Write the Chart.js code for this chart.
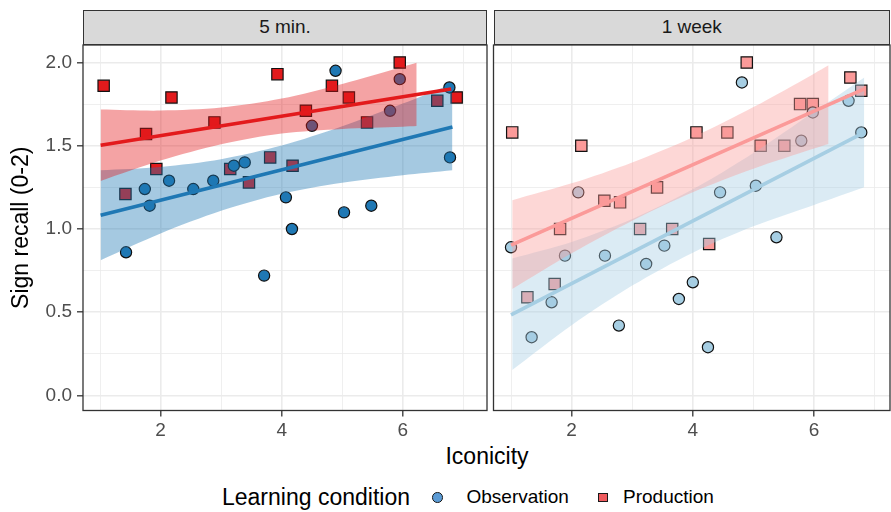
<!DOCTYPE html>
<html>
<head>
<meta charset="utf-8">
<script src="https://cdn.jsdelivr.net/npm/chart.js@4.4.1/dist/chart.umd.min.js"></script>
<style>
html,body{margin:0;padding:0;background:#fff;}
#wrap{position:relative;width:891px;height:512px;overflow:hidden;font-family:"Liberation Sans",Arial,sans-serif;background:#fff;}
#wrap canvas{position:absolute;top:0;}
.strip{position:absolute;box-sizing:border-box;background:#d9d9d9;border:1.3px solid #333;color:#1a1a1a;font-size:19px;display:flex;align-items:center;justify-content:center;}
.txt{position:absolute;white-space:nowrap;color:#000;}
.sym{position:absolute;box-sizing:border-box;border:1.2px solid #1a1a1a;}
</style>
</head>
<body>
<div id="wrap">
  <canvas id="c5" width="489" height="440" style="left:0px"></canvas>
  <canvas id="cw" width="401" height="440" style="left:490px"></canvas>
  <div class="strip" style="left:83px;top:9.5px;width:404px;height:35.5px;">5 min.</div>
  <div class="strip" style="left:493.5px;top:9.5px;width:396.5px;height:35.5px;">1 week</div>
  <div class="txt" style="left:387px;width:200px;text-align:center;top:441px;line-height:30px;font-size:23px;">Iconicity</div>
  <div class="txt" style="left:222px;top:483px;line-height:28px;font-size:23px;">Learning condition</div>
  <div class="sym" style="left:432px;top:492px;width:10.5px;height:10.5px;border-radius:50%;background:#5b9bd5;"></div>
  <div class="txt" style="left:466.5px;top:483px;line-height:28px;font-size:19px;">Observation</div>
  <div class="sym" style="left:598px;top:492.5px;width:9.5px;height:9.5px;background:#ef5b5e;"></div>
  <div class="txt" style="left:623px;top:483px;line-height:28px;font-size:19px;">Production</div>
</div>
<script>
// ---------- data ----------
const xTickValues = [1, 2, 3, 4, 5, 6, 7];
const xMajorTicks = [2, 4, 6];
const yTickValues = [0, 0.25, 0.5, 0.75, 1, 1.25, 1.5, 1.75, 2];
const yMajorTicks = [0, 0.5, 1, 1.5, 2];

// 5 min. – Observation
const obs5X = [1.43, 1.74, 1.82, 2.14, 2.54, 2.87, 3.21, 3.39, 3.71, 4.07, 4.17, 4.50, 4.89, 5.03, 5.48, 5.79, 5.95, 6.77, 6.78];
const obs5Y = [0.86, 1.24, 1.14, 1.29, 1.24, 1.29, 1.38, 1.40, 0.72, 1.19, 1.00, 1.62, 1.95, 1.10, 1.14, 1.71, 1.90, 1.85, 1.43];
// 5 min. – Production
const prod5X = [1.06, 1.42, 1.76, 1.93, 2.18, 2.89, 3.15, 3.46, 3.81, 3.93, 4.18, 4.40, 4.83, 5.11, 5.41, 5.95, 6.57, 6.89];
const prod5Y = [1.86, 1.21, 1.57, 1.36, 1.79, 1.64, 1.36, 1.28, 1.43, 1.93, 1.38, 1.71, 1.86, 1.79, 1.64, 2.00, 1.77, 1.79];
// 1 week – Observation
const obsWX = [1.00, 1.34, 1.67, 1.89, 2.11, 2.55, 2.78, 3.23, 3.53, 3.77, 4.00, 4.25, 4.45, 4.81, 5.04, 5.38, 5.79, 5.98, 6.57, 6.78];
const obsWY = [0.89, 0.35, 0.56, 0.84, 1.22, 0.84, 0.42, 0.79, 0.90, 0.58, 0.68, 0.29, 1.22, 1.88, 1.26, 0.95, 1.53, 1.70, 1.77, 1.58];
// 1 week – Production
const prodWX = [1.02, 1.27, 1.72, 1.81, 2.16, 2.54, 2.80, 3.13, 3.41, 3.66, 4.06, 4.27, 4.57, 4.89, 5.12, 5.51, 5.77, 5.98, 6.60, 6.78];
const prodWY = [1.58, 0.59, 0.67, 1.00, 1.50, 1.17, 1.16, 1.00, 1.25, 1.00, 1.58, 0.91, 1.58, 2.00, 1.50, 1.50, 1.75, 1.75, 1.91, 1.83];

// fitted lines (end points)
const fitObs5X = [1.01, 6.82],  fitObs5Y = [1.083, 1.613];
const fitProd5X = [1.01, 6.80], fitProd5Y = [1.503, 1.841];
const fitObsWX = [1.00, 6.79],  fitObsWY = [0.484, 1.573];
const fitProdWX = [1.00, 6.84], fitProdWY = [0.903, 1.843];

// confidence bands
const bandObs5X  = [1.01, 2, 3, 4, 5, 6, 6.82];
const bandObs5Hi = [1.353, 1.373, 1.419, 1.501, 1.617, 1.753, 1.873];
const bandObs5Lo = [0.813, 0.973, 1.109, 1.211, 1.277, 1.323, 1.353];
const bandProd5X  = [1.01, 2, 3, 4, 5, 6, 6.23];
const bandProd5Hi = [1.717, 1.711, 1.729, 1.783, 1.871, 1.974, 1.998];
const bandProd5Lo = [1.289, 1.411, 1.509, 1.573, 1.601, 1.614, 1.618];
const bandObsWX  = [1.02, 2, 3, 4, 5, 6, 6.83];
const bandObsWHi = [0.823, 0.922, 1.060, 1.238, 1.456, 1.704, 1.910];
const bandObsWLo = [0.153, 0.422, 0.660, 0.858, 1.016, 1.144, 1.250];
const bandProdWX  = [1.02, 2, 3, 4, 5, 6, 6.24];
const bandProdWHi = [1.173, 1.274, 1.400, 1.551, 1.732, 1.933, 1.983];
const bandProdWLo = [0.639, 0.854, 1.050, 1.221, 1.362, 1.483, 1.511];

// ---------- helpers ----------
Chart.defaults.font.family = '"Liberation Sans", Arial, sans-serif';
const pts = (xs, ys) => xs.map((x, i) => ({x: x, y: ys[i]}));
const near = (v, arr) => arr.some(a => Math.abs(a - v) < 1e-6);
const isMajX = v => near(v, xMajorTicks);
const isMajY = v => near(v, yMajorTicks);

const borderPlugin = {
  id: 'panelBorder',
  afterDatasetsDraw(chart) {
    const a = chart.chartArea, ctx = chart.ctx;
    ctx.save();
    ctx.strokeStyle = '#333333';
    ctx.lineWidth = 1.3;
    ctx.strokeRect(a.left, a.top, a.right - a.left, a.bottom - a.top);
    ctx.restore();
  }
};

function makeDatasets(s) {
  const band = (xs, hi, lo, fillCol, order) => ([
    {data: pts(xs, hi), showLine: true, fill: '+1', backgroundColor: fillCol,
     borderColor: 'rgba(0,0,0,0)', borderWidth: 1, pointRadius: 0, tension: 0.3, order: order},
    {data: pts(xs, lo), showLine: true, fill: false,
     borderColor: 'rgba(0,0,0,0)', borderWidth: 1, pointRadius: 0, tension: 0.3, order: order}
  ]);
  return [
    {data: pts(s.obsX, s.obsY), pointStyle: 'circle', pointRadius: 5.6, backgroundColor: s.obsCol,
     borderColor: '#111', borderWidth: 1.2, order: 5},
    {data: pts(s.prodX, s.prodY), pointStyle: 'rect', pointRadius: 8, backgroundColor: s.prodCol,
     borderColor: '#111', borderWidth: 1.2, order: 5},
    ...band(s.bObsX, s.bObsHi, s.bObsLo, s.obsBand, 4),
    {data: pts(s.fObsX, s.fObsY), showLine: true, borderColor: s.obsCol, borderWidth: 3.6, pointRadius: 0, order: 3},
    ...band(s.bProdX, s.bProdHi, s.bProdLo, s.prodBand, 2),
    {data: pts(s.fProdX, s.fProdY), showLine: true, borderColor: s.prodCol, borderWidth: 3.6, pointRadius: 0, order: 1}
  ];
}

function makeChart(id, s) {
  const gridX = {
    color: '#ebebeb',
    lineWidth: c => (c.tick && isMajX(c.tick.value)) ? 1.6 : 0.8,
    tickColor: c => (c.tick && isMajX(c.tick.value)) ? '#333333' : 'rgba(0,0,0,0)',
    tickLength: 6, tickWidth: 1.3
  };
  const gridY = {
    color: '#ebebeb',
    lineWidth: c => (c.tick && isMajY(c.tick.value)) ? 1.6 : 0.8,
    tickColor: c => (s.showY && c.tick && isMajY(c.tick.value)) ? '#333333' : 'rgba(0,0,0,0)',
    tickLength: s.showY ? 6 : 0, drawTicks: s.showY, tickWidth: 1.3
  };
  return new Chart(document.getElementById(id), {
    type: 'scatter',
    data: {datasets: makeDatasets(s)},
    options: {
      responsive: false, animation: false, devicePixelRatio: 1,
      layout: {autoPadding: false, padding: {top: 45, right: s.padRight, left: s.padLeft, bottom: 0}},
      plugins: {legend: {display: false}, tooltip: {enabled: false}},
      scales: {
        x: {
          type: 'linear', min: s.xMin, max: s.xMax,
          afterBuildTicks: sc => { sc.ticks = xTickValues.map(v => ({value: v})); },
          afterFit: sc => { sc.height = 29.5; sc.paddingLeft = 0; sc.paddingRight = 0; },
          grid: gridX, border: {display: false},
          ticks: {callback: v => isMajX(v) ? String(v) : '', color: '#4d4d4d',
                  font: {size: 19}, padding: 3, autoSkip: false, maxRotation: 0}
        },
        y: {
          type: 'linear', min: -0.09, max: 2.105,
          afterBuildTicks: sc => { sc.ticks = yTickValues.map(v => ({value: v})); },
          afterFit: sc => { sc.width = s.yWidth; },
          grid: gridY, border: {display: false},
          ticks: {display: s.showY, callback: v => isMajY(v) ? v.toFixed(1) : '', color: '#4d4d4d',
                  font: {size: 19}, padding: 5, autoSkip: false},
          title: {display: s.showY, text: 'Sign recall (0-2)', color: '#000',
                  font: {size: 23}, padding: {top: 8, bottom: 0}}
        }
      }
    },
    plugins: [borderPlugin]
  });
}

makeChart('c5', {
  showY: true, yWidth: 83, padLeft: 0, padRight: 2, xMin: 0.719, xMax: 7.391,
  obsX: obs5X, obsY: obs5Y, prodX: prod5X, prodY: prod5Y,
  obsCol: '#1f78b4', prodCol: '#e31a1c',
  obsBand: 'rgba(31,120,180,0.4)', prodBand: 'rgba(227,26,28,0.4)',
  fObsX: fitObs5X, fObsY: fitObs5Y, fProdX: fitProd5X, fProdY: fitProd5Y,
  bObsX: bandObs5X, bObsHi: bandObs5Hi, bObsLo: bandObs5Lo,
  bProdX: bandProd5X, bProdHi: bandProd5Hi, bProdLo: bandProd5Lo
});
makeChart('cw', {
  showY: false, yWidth: 0, padLeft: 3.5, padRight: 1, xMin: 0.711, xMax: 7.254,
  obsX: obsWX, obsY: obsWY, prodX: prodWX, prodY: prodWY,
  obsCol: '#a6cee3', prodCol: '#fb9a99',
  obsBand: 'rgba(166,206,227,0.4)', prodBand: 'rgba(251,154,153,0.4)',
  fObsX: fitObsWX, fObsY: fitObsWY, fProdX: fitProdWX, fProdY: fitProdWY,
  bObsX: bandObsWX, bObsHi: bandObsWHi, bObsLo: bandObsWLo,
  bProdX: bandProdWX, bProdHi: bandProdWHi, bProdLo: bandProdWLo
});
</script>
</body>
</html>
